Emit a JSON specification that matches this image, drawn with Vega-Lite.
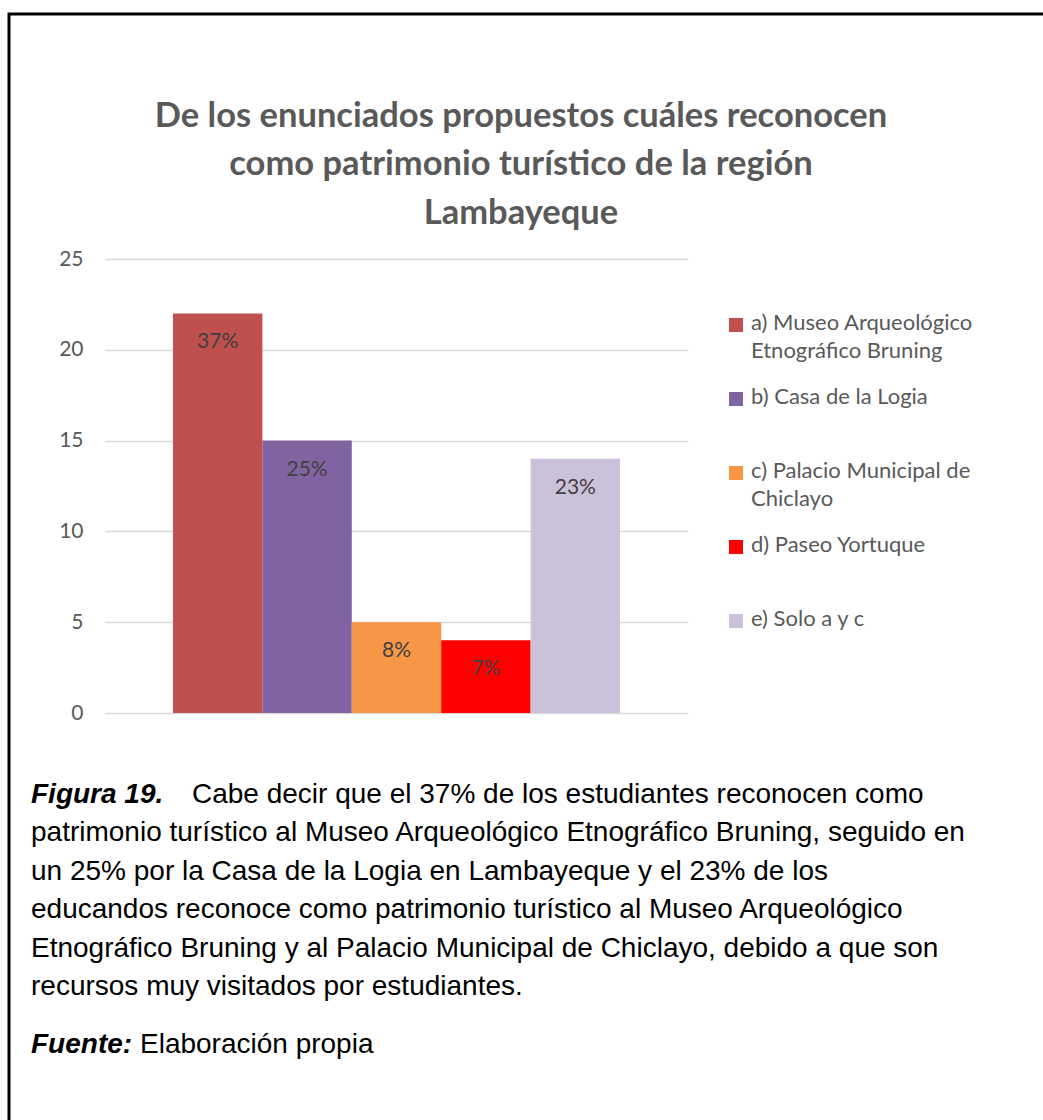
{
  "$schema": "https://vega.github.io/schema/vega-lite/v6.json",
  "width": 1044,
  "height": 1116,
  "autosize": {"type": "none"},
  "padding": {"left": 9, "top": 14, "right": -10, "bottom": -10},
  "background": "#ffffff",
  "title": {
    "text": ["De los enunciados propuestos cuáles reconocen", "como patrimonio  turístico de la región", "Lambayeque"],
    "font": "Lato",
    "fontSize": 34.5,
    "fontWeight": "bold",
    "color": "#595959",
    "lineHeight": 48.5,
    "anchor": "middle",
    "frame": "group",
    "dx": -10,
    "offset": -217
  },
  "config": {
    "view": {"stroke": "#000000", "strokeWidth": 3},
    "font": "Lato"
  },
  "datasets": {
    "respuestas": [
      {"categoria": "a) Museo Arqueológico Etnográfico Bruning", "frecuencia": 22, "porcentaje": "37%"},
      {"categoria": "b) Casa de la Logia", "frecuencia": 15, "porcentaje": "25%"},
      {"categoria": "c) Palacio Municipal de Chiclayo", "frecuencia": 5, "porcentaje": "8%"},
      {"categoria": "d) Paseo Yortuque", "frecuencia": 4, "porcentaje": "7%"},
      {"categoria": "e) Solo a y c", "frecuencia": 14, "porcentaje": "23%"}
    ],
    "nota": [
      {"linea": 1, "estilo": "negrita", "texto": "Figura 19."},
      {"linea": 1, "estilo": "normal1", "texto": "Cabe decir que el 37% de los estudiantes reconocen como"},
      {"linea": 2, "estilo": "normal", "texto": "patrimonio turístico al Museo Arqueológico Etnográfico Bruning, seguido en"},
      {"linea": 3, "estilo": "normal", "texto": "un 25% por la Casa de la Logia en Lambayeque y el 23% de los"},
      {"linea": 4, "estilo": "normal", "texto": "educandos reconoce como patrimonio turístico al Museo Arqueológico"},
      {"linea": 5, "estilo": "normal", "texto": "Etnográfico Bruning y al Palacio Municipal de Chiclayo, debido a que son"},
      {"linea": 6, "estilo": "normal", "texto": "recursos muy visitados por estudiantes."},
      {"linea": 7.5, "estilo": "negrita", "texto": "Fuente:"},
      {"linea": 7.5, "estilo": "normal2", "texto": "Elaboración propia"}
    ]
  },
  "layer": [
    {
      "data": {"name": "respuestas"},
      "encoding": {
        "x": {
          "field": "categoria", "type": "nominal", "sort": null,
          "scale": {"range": [96, 679], "paddingInner": 0, "paddingOuter": 0.76},
          "axis": null
        },
        "y": {
          "field": "frecuencia", "type": "quantitative",
          "scale": {"domain": [0, 25], "range": [699, 245], "nice": false},
          "axis": {
            "values": [0, 5, 10, 15, 20, 25],
            "grid": true, "gridColor": "#d9d9d9", "gridWidth": 1.5,
            "domain": false, "ticks": false,
            "labelFont": "Lato", "labelFontSize": 21, "labelColor": "#595959",
            "labelPadding": 22, "offset": -96, "title": null
          }
        }
      },
      "layer": [
        {
          "mark": {"type": "bar"},
          "encoding": {
            "color": {
              "field": "categoria", "type": "nominal", "sort": null,
              "scale": {
                "domain": ["a) Museo Arqueológico Etnográfico Bruning", "b) Casa de la Logia", "c) Palacio Municipal de Chiclayo", "d) Paseo Yortuque", "e) Solo a y c"],
                "range": ["#C0504D", "#8064A2", "#F79646", "#FF0000", "#CCC1DA"]
              },
              "legend": {
                "orient": "none", "legendX": 716, "legendY": 300,
                "title": null, "padding": 0,
                "symbolType": "square", "symbolSize": 196, "symbolStrokeWidth": 0,
                "labelFont": "Lato", "labelFontSize": 22, "labelColor": "#595959",
                "labelOffset": 4, "labelLimit": 500,
                "labelBaseline": "top",
                "gridAlign": "all", "rowPadding": 24,
                "labelExpr": "datum.label == 'a) Museo Arqueológico Etnográfico Bruning' ? ['a) Museo Arqueológico', 'Etnográfico Bruning'] : datum.label == 'c) Palacio Municipal de Chiclayo' ? ['c) Palacio Municipal de', 'Chiclayo'] : datum.label",
                "encode": {"labels": {"update": {"dy": {"value": -12}, "lineHeight": {"value": 28}}}}
              }
            }
          }
        },
        {
          "mark": {"type": "text", "dy": 29, "baseline": "middle", "font": "Lato", "fontSize": 21, "color": "#404040"},
          "encoding": {"text": {"field": "porcentaje", "type": "nominal"}}
        }
      ]
    },
    {
      "data": {"name": "nota"},
      "encoding": {
        "x": {"datum": 0, "type": "quantitative", "scale": {"domain": [0, 1], "range": [22, 1001]}, "axis": null},
        "y": {"field": "linea", "type": "quantitative", "scale": {"domain": [1, 6], "range": [781, 973], "zero": false, "nice": false}, "axis": null},
        "text": {"field": "texto", "type": "nominal"}
      },
      "layer": [
        {
          "transform": [{"filter": "datum.estilo == 'negrita'"}],
          "mark": {"type": "text", "align": "left", "baseline": "middle", "font": "Liberation Sans", "fontSize": 28, "fontWeight": "bold", "fontStyle": "italic", "color": "#000000"}
        },
        {
          "transform": [{"filter": "datum.estilo == 'normal'"}],
          "mark": {"type": "text", "align": "left", "baseline": "middle", "font": "Liberation Sans", "fontSize": 28, "color": "#000000"}
        },
        {
          "transform": [{"filter": "datum.estilo == 'normal1'"}],
          "mark": {"type": "text", "align": "left", "baseline": "middle", "dx": 161, "font": "Liberation Sans", "fontSize": 28, "color": "#000000"}
        },
        {
          "transform": [{"filter": "datum.estilo == 'normal2'"}],
          "mark": {"type": "text", "align": "left", "baseline": "middle", "dx": 109, "font": "Liberation Sans", "fontSize": 28, "color": "#000000"}
        }
      ]
    }
  ],
  "resolve": {"scale": {"x": "independent", "y": "independent"}}
}
